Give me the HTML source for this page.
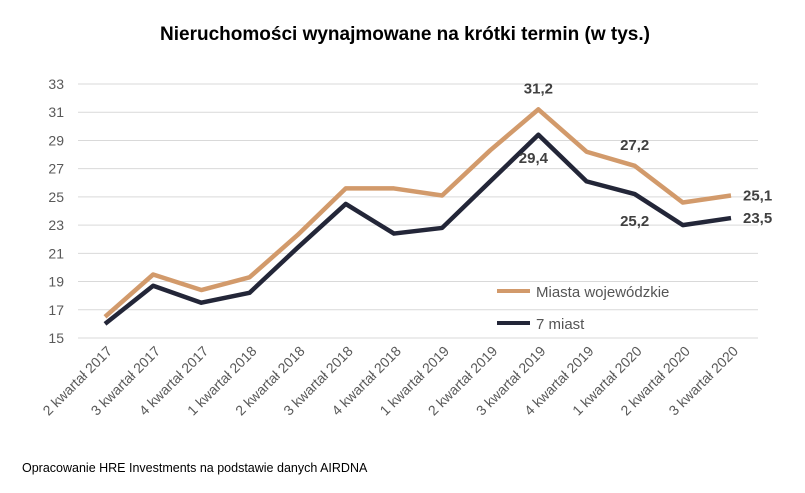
<!DOCTYPE html>
<html><head><meta charset="utf-8"><style>
body{margin:0;background:#fff;font-family:"Liberation Sans",sans-serif}
svg text{font-family:"Liberation Sans",sans-serif}
</style></head><body>
<svg id="c" width="805" height="488">
<text x="405" y="40" text-anchor="middle" font-size="19" font-weight="bold" fill="#000">Nieruchomości wynajmowane na krótki termin (w tys.)</text>
<g id="grid"></g><g id="lines"></g><g id="labels"></g>
<g>
<line x1="497" y1="291" x2="530" y2="291" stroke="#D29A6B" stroke-width="4"/>
<text x="536" y="297" font-size="15" fill="#555">Miasta wojewódzkie</text>
<line x1="497" y1="323" x2="530" y2="323" stroke="#232638" stroke-width="4"/>
<text x="536" y="329" font-size="15" fill="#555">7 miast</text>
</g>
<text x="22" y="472" font-size="12.5" fill="#000">Opracowanie HRE Investments na podstawie danych AIRDNA</text>
</svg>
<script>
const categories=["2 kwartał 2017","3 kwartał 2017","4 kwartał 2017","1 kwartał 2018","2 kwartał 2018","3 kwartał 2018","4 kwartał 2018","1 kwartał 2019","2 kwartał 2019","3 kwartał 2019","4 kwartał 2019","1 kwartał 2020","2 kwartał 2020","3 kwartał 2020"];
const miasta=[16.5,19.5,18.4,19.3,22.3,25.6,25.6,25.1,28.3,31.2,28.2,27.2,24.6,25.1];
const siedem=[16.0,18.7,17.5,18.2,21.4,24.5,22.4,22.8,26.1,29.4,26.1,25.2,23.0,23.5];
const yTicks=[15,17,19,21,23,25,27,29,31,33];
const ns="http://www.w3.org/2000/svg";
const x0=105,x1=731,yTop=84,yBot=338;
const X=i=>x0+i*(x1-x0)/(categories.length-1);
const Y=v=>yBot-(v-15)/(33-15)*(yBot-yTop);
function mk(t,a,p){const e=document.createElementNS(ns,t);for(const k in a)e.setAttribute(k,a[k]);p.appendChild(e);return e;}
const g=document.getElementById('grid'),L=document.getElementById('lines'),lb=document.getElementById('labels');
yTicks.forEach(v=>{
 const l=mk('line',{x1:78,x2:758,y1:Y(v),y2:Y(v),stroke:'#d9d9d9','stroke-width':1},g);
 
 
 const t=mk('text',{x:64,y:Y(v)+5,'text-anchor':'end','font-size':14,fill:'#595959'},g);t.textContent=v;
 
 
});
categories.forEach((c,i)=>{
 const t=mk('text',{x:X(i)+8,y:352,'text-anchor':'end','font-size':14,fill:'#595959',transform:`rotate(-45 ${X(i)+8} 352)`},g);t.textContent=c;
 
 
});
function line(d,col,name){
 const p=mk('polyline',{points:d.map((v,i)=>X(i)+','+Y(v)).join(' '),fill:'none',stroke:col,'stroke-width':4.5,'stroke-linejoin':'round'},L);
 
 
}
line(miasta,'#D29A6B','series-miasta-wojewodzkie');
line(siedem,'#232638','series-7-miast');
function lab(txt,x,y,a){const t=mk('text',{x:x,y:y,'text-anchor':a||'middle','font-size':15,'font-weight':'bold',fill:'#404040'},lb);t.textContent=txt;
 
 }
const f=v=>v.toFixed(1).replace('.',',');
lab(f(miasta[9]),X(9),Y(miasta[9])-16);
lab(f(siedem[9]),X(9)-5,Y(siedem[9])+28);
lab(f(miasta[11]),X(11),Y(miasta[11])-16);
lab(f(siedem[11]),X(11),Y(siedem[11])+32);
lab(f(miasta[13]),X(13)+12,Y(miasta[13])+5,'start');
lab(f(siedem[13]),X(13)+12,Y(siedem[13])+5,'start');
</script>
</body></html>
